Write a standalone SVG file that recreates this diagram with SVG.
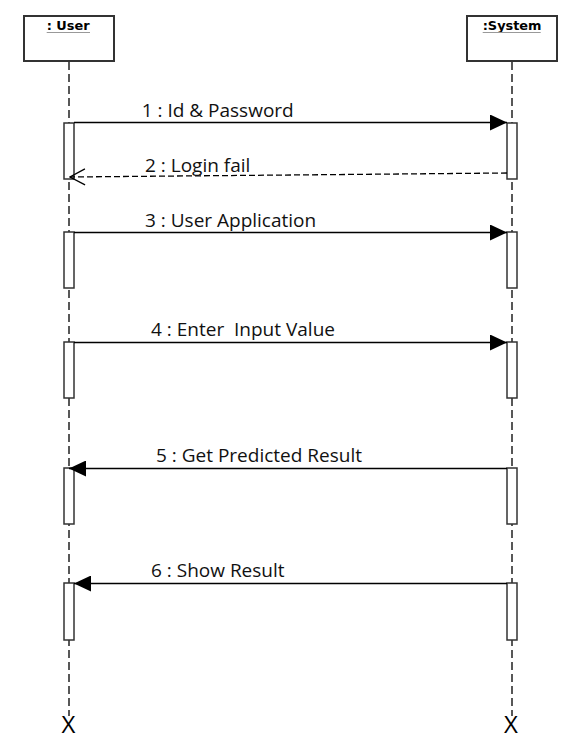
<svg xmlns="http://www.w3.org/2000/svg" width="565" height="746" viewBox="0 0 565 746">
<style>
.box{fill:#fff;stroke:#333;stroke-width:2}
.title{font-family:"DejaVu Sans",sans-serif;font-weight:bold;font-size:12.9px;fill:#000}
.ul{stroke:#999;stroke-width:1.2}
.life{stroke:#222;stroke-width:1.5;stroke-dasharray:8,4;fill:none}
.bar{fill:#fff;stroke:#333;stroke-width:1.5}
.msg{stroke:#000;stroke-width:1.3;fill:none}
.ret{stroke:#000;stroke-width:1.3;fill:none;stroke-dasharray:6,3}
.lbl{font-family:"Open Sans",sans-serif;font-size:19px;fill:#111}
.x{font-family:"Open Sans",sans-serif;font-size:24px;fill:#000;text-anchor:middle}
</style>
<defs>
<marker id="filled" markerWidth="17" markerHeight="16" refX="17" refY="8" orient="auto" markerUnits="userSpaceOnUse">
<path d="M0,0 L17,8 L0,16 Z" fill="#000"/>
</marker>
<marker id="open" markerWidth="17" markerHeight="18" refX="16" refY="9" orient="auto" markerUnits="userSpaceOnUse">
<path d="M1,1 L16,9 L1,17" fill="none" stroke="#000" stroke-width="1.3"/>
</marker>
</defs>
<g id="lifelines">
<line class="life" x1="69" y1="62" x2="69" y2="716"/>
<line class="life" x1="512" y1="62" x2="512" y2="716"/>
</g>
<g id="user">
<rect class="box" x="24" y="16" width="90" height="45"/>
<text class="title" x="46.7" y="30">: User</text>
<line class="ul" x1="46.7" y1="32.5" x2="90" y2="32.5"/>
<rect class="bar" x="64" y="123" width="10" height="56"/>
<rect class="bar" x="64" y="232" width="10" height="56"/>
<rect class="bar" x="64" y="342" width="10" height="56"/>
<rect class="bar" x="64" y="468" width="10" height="56"/>
<rect class="bar" x="64" y="583" width="10" height="57"/>
<text class="x" x="68.5" y="733">X</text>
</g>
<g id="system">
<rect class="box" x="467" y="16" width="90" height="45"/>
<text class="title" x="482.7" y="30">:System</text>
<line class="ul" x1="482.7" y1="32.5" x2="540.7" y2="32.5"/>
<rect class="bar" x="507" y="123" width="10" height="56"/>
<rect class="bar" x="507" y="232" width="10" height="56"/>
<rect class="bar" x="507" y="342" width="10" height="56"/>
<rect class="bar" x="507" y="468" width="10" height="56"/>
<rect class="bar" x="507" y="583" width="10" height="57"/>
<text class="x" x="511" y="733">X</text>
</g>
<g id="connectors">
<line class="msg" x1="74" y1="122.5" x2="507" y2="122.5" marker-end="url(#filled)"/>
<text class="lbl" x="141.7" y="116.7">1 : Id &amp; Password</text>
<line class="ret" x1="507" y1="173" x2="70" y2="177" marker-end="url(#open)"/>
<text class="lbl" x="145" y="171.5">2 : Login fail</text>
<line class="msg" x1="74" y1="232.5" x2="507" y2="232.5" marker-end="url(#filled)"/>
<text class="lbl" x="145" y="226.7">3 : User Application</text>
<line class="msg" x1="74" y1="342.5" x2="507" y2="342.5" marker-end="url(#filled)"/>
<text class="lbl" x="151" y="336" xml:space="preserve">4 : Enter  Input Value</text>
<line class="msg" x1="507" y1="468.5" x2="69" y2="468.5" marker-end="url(#filled)"/>
<text class="lbl" x="156" y="461.7">5 : Get Predicted Result</text>
<line class="msg" x1="507" y1="583.5" x2="74" y2="583.5" marker-end="url(#filled)"/>
<text class="lbl" x="151" y="577">6 : Show Result</text>
</g>
</svg>
